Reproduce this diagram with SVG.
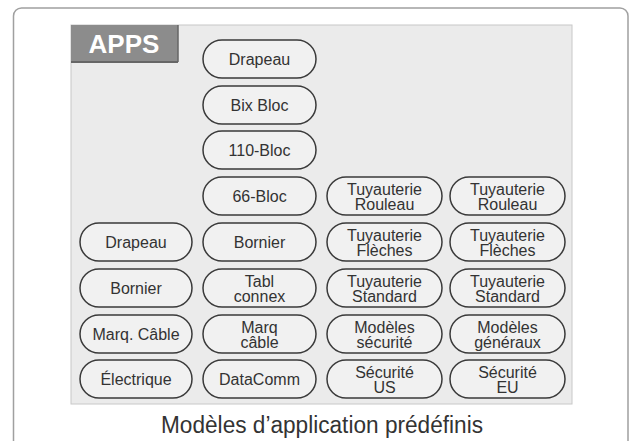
<svg xmlns="http://www.w3.org/2000/svg" width="635" height="441" viewBox="0 0 635 441">
<style>
.pill rect{fill:#f1f1f1;stroke:#3a3a3a;stroke-width:1.5}
.pill text{font-family:"Liberation Sans",Arial,sans-serif;font-size:16px;fill:#333;text-anchor:middle}
</style>
<rect x="0" y="0" width="635" height="441" fill="#fff"/>
<path d="M13.5 445 V16 a8 8 0 0 1 8 -8 H620 a8 8 0 0 1 8 8 V445" fill="none" stroke="#a0a0a0" stroke-width="1.5"/>
<rect x="71" y="25" width="501" height="379" fill="#ebebeb" stroke="#c8c8c8" stroke-width="1"/>
<g id="apps">
<rect x="71" y="25" width="107" height="37" fill="#8c8c8c"/>
<line x1="71" y1="62" x2="178" y2="62" stroke="#666" stroke-width="2"/>
<line x1="178" y1="25" x2="178" y2="62" stroke="#666" stroke-width="1.5"/>
<text x="124" y="53" font-family="Liberation Sans,Arial,sans-serif" font-size="26" font-weight="bold" fill="#fff" text-anchor="middle">APPS</text>
</g>
<g id="c2r1" class="pill"><rect x="203" y="40" width="113" height="38" rx="19"/><text x="259.5" y="65">Drapeau</text></g>
<g id="c2r2" class="pill"><rect x="203" y="86" width="113" height="38" rx="19"/><text x="259.5" y="111">Bix Bloc</text></g>
<g id="c2r3" class="pill"><rect x="203" y="131" width="113" height="38" rx="19"/><text x="259.5" y="156">110-Bloc</text></g>
<g id="c2r4" class="pill"><rect x="203" y="177" width="113" height="38" rx="19"/><text x="259.5" y="202">66-Bloc</text></g>
<g id="c3r4" class="pill"><rect x="327" y="177" width="115" height="38" rx="19"/><text x="384.5" y="194.5">Tuyauterie</text><text x="384.5" y="210">Rouleau</text></g>
<g id="c4r4" class="pill"><rect x="450" y="177" width="115" height="38" rx="19"/><text x="507.5" y="194.5">Tuyauterie</text><text x="507.5" y="210">Rouleau</text></g>

<g id="c1r5" class="pill"><rect x="80" y="223" width="112" height="38" rx="19"/><text x="136" y="248">Drapeau</text></g>
<g id="c2r5" class="pill"><rect x="203" y="223" width="113" height="38" rx="19"/><text x="259.5" y="248">Bornier</text></g>
<g id="c3r5" class="pill"><rect x="327" y="223" width="115" height="38" rx="19"/><text x="384.5" y="240.5">Tuyauterie</text><text x="384.5" y="256">Flèches</text></g>
<g id="c4r5" class="pill"><rect x="450" y="223" width="115" height="38" rx="19"/><text x="507.5" y="240.5">Tuyauterie</text><text x="507.5" y="256">Flèches</text></g>

<g id="c1r6" class="pill"><rect x="80" y="269" width="112" height="38" rx="19"/><text x="136" y="294">Bornier</text></g>
<g id="c2r6" class="pill"><rect x="203" y="269" width="113" height="38" rx="19"/><text x="259.5" y="286.5">Tabl</text><text x="259.5" y="302">connex</text></g>
<g id="c3r6" class="pill"><rect x="327" y="269" width="115" height="38" rx="19"/><text x="384.5" y="286.5">Tuyauterie</text><text x="384.5" y="302">Standard</text></g>
<g id="c4r6" class="pill"><rect x="450" y="269" width="115" height="38" rx="19"/><text x="507.5" y="286.5">Tuyauterie</text><text x="507.5" y="302">Standard</text></g>

<g id="c1r7" class="pill"><rect x="80" y="315" width="112" height="38" rx="19"/><text x="136" y="340">Marq. Câble</text></g>
<g id="c2r7" class="pill"><rect x="203" y="315" width="113" height="38" rx="19"/><text x="259.5" y="332.5">Marq</text><text x="259.5" y="348">câble</text></g>
<g id="c3r7" class="pill"><rect x="327" y="315" width="115" height="38" rx="19"/><text x="384.5" y="332.5">Modèles</text><text x="384.5" y="348">sécurité</text></g>
<g id="c4r7" class="pill"><rect x="450" y="315" width="115" height="38" rx="19"/><text x="507.5" y="332.5">Modèles</text><text x="507.5" y="348">généraux</text></g>

<g id="c1r8" class="pill"><rect x="80" y="360" width="112" height="38" rx="19"/><text x="136" y="385">Électrique</text></g>
<g id="c2r8" class="pill"><rect x="203" y="360" width="113" height="38" rx="19"/><text x="259.5" y="385">DataComm</text></g>
<g id="c3r8" class="pill"><rect x="327" y="360" width="115" height="38" rx="19"/><text x="384.5" y="377.5">Sécurité</text><text x="384.5" y="393">US</text></g>
<g id="c4r8" class="pill"><rect x="450" y="360" width="115" height="38" rx="19"/><text x="507.5" y="377.5">Sécurité</text><text x="507.5" y="393">EU</text></g>

<g id="connectors"></g>
<text x="322" y="433" font-family="Liberation Sans,Arial,sans-serif" font-size="23" fill="#333" text-anchor="middle" textLength="322" lengthAdjust="spacingAndGlyphs">Modèles d’application prédéfinis</text>
</svg>
